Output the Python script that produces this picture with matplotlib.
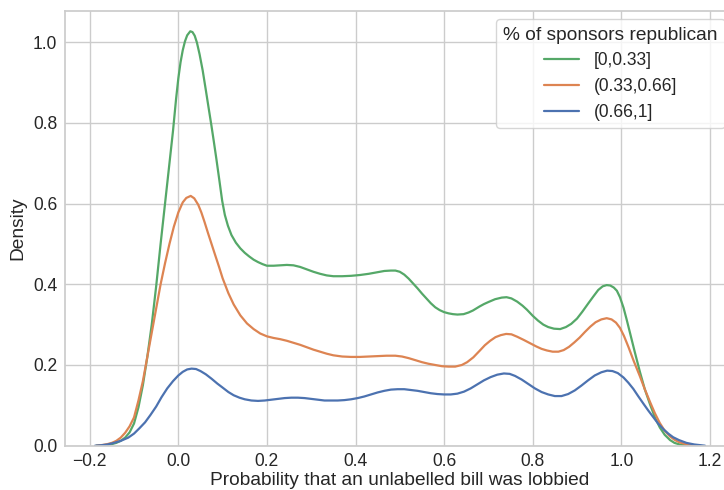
import matplotlib
matplotlib.use("Agg")
import matplotlib.pyplot as plt
import seaborn as sns

# KDE curves of predicted lobbying probability, grouped by share of republican sponsors
x_low = [-0.185, -0.17, -0.16, -0.15, -0.14, -0.13, -0.12, -0.11, -0.1, -0.09,
         -0.08, -0.07, -0.06, -0.05, -0.04, -0.03, -0.02, -0.012, -0.005, 0.0,
         0.005, 0.01, 0.015, 0.02, 0.027, 0.032, 0.037, 0.042, 0.048, 0.055,
         0.062, 0.068, 0.0745, 0.08, 0.086, 0.093, 0.099, 0.105, 0.112, 0.12,
         0.13, 0.14, 0.15, 0.16, 0.17, 0.18, 0.19, 0.2, 0.215, 0.23, 0.245, 0.26,
         0.275, 0.29, 0.305, 0.32, 0.335, 0.35, 0.37, 0.39, 0.41, 0.43, 0.45,
         0.465, 0.48, 0.49, 0.5, 0.51, 0.52, 0.53, 0.54, 0.55, 0.56, 0.57, 0.58,
         0.59, 0.6, 0.61, 0.62, 0.63, 0.644, 0.655, 0.665, 0.68, 0.69, 0.7, 0.715,
         0.73, 0.741, 0.752, 0.765, 0.777, 0.787, 0.8, 0.812, 0.824, 0.835, 0.848,
         0.862, 0.875, 0.887, 0.9, 0.912, 0.925, 0.937, 0.948, 0.958, 0.967, 0.975,
         0.983, 0.99, 0.997, 1.005, 1.012, 1.02, 1.03, 1.042, 1.053, 1.065, 1.076,
         1.087, 1.098, 1.11, 1.12, 1.132, 1.145, 1.155]
y_low = [0.0, 0.001, 0.002, 0.004, 0.007, 0.012, 0.02, 0.033, 0.055, 0.095,
         0.15, 0.22, 0.3, 0.395, 0.5, 0.6, 0.7, 0.78, 0.86, 0.91,
         0.95, 0.98, 1.002, 1.017, 1.027, 1.025, 1.016, 0.999, 0.97, 0.93,
         0.882, 0.84, 0.795, 0.755, 0.71, 0.655, 0.607, 0.572, 0.545, 0.522,
         0.503, 0.489, 0.478, 0.469, 0.461, 0.455, 0.45, 0.446, 0.446, 0.447, 0.448, 0.447,
         0.443, 0.437, 0.431, 0.426, 0.422, 0.42, 0.42, 0.421, 0.423, 0.426, 0.43,
         0.433, 0.434, 0.434, 0.431, 0.424, 0.414, 0.402, 0.39, 0.377, 0.365, 0.353, 0.343,
         0.336, 0.331, 0.328, 0.326, 0.325, 0.326, 0.33, 0.335, 0.345, 0.351, 0.356, 0.363,
         0.367, 0.368, 0.365, 0.357, 0.347, 0.337, 0.322, 0.31, 0.3, 0.294, 0.29,
         0.289, 0.294, 0.302, 0.315, 0.332, 0.352, 0.37, 0.386, 0.395, 0.398, 0.397,
         0.392, 0.384, 0.368, 0.342, 0.313, 0.278, 0.234, 0.183, 0.14, 0.102, 0.07,
         0.045, 0.027, 0.014, 0.007, 0.003, 0.001, 0.0]

x_mid = [-0.185, -0.17, -0.16, -0.15, -0.14, -0.13, -0.12, -0.11, -0.1, -0.09,
         -0.08, -0.07, -0.06, -0.05, -0.04, -0.03, -0.02, -0.01, 0.0, 0.01,
         0.018, 0.028, 0.036, 0.045, 0.052, 0.059, 0.067, 0.075, 0.083, 0.092,
         0.1, 0.113, 0.125, 0.14, 0.155, 0.17, 0.185, 0.2, 0.215, 0.23, 0.245,
         0.26, 0.275, 0.29, 0.305, 0.32, 0.335, 0.35, 0.37, 0.39, 0.41, 0.43, 0.45,
         0.47, 0.49, 0.505, 0.52, 0.535, 0.55, 0.565, 0.58, 0.595, 0.61, 0.625,
         0.64, 0.652, 0.666, 0.68, 0.692, 0.704, 0.716, 0.728, 0.74, 0.752, 0.765,
         0.78, 0.794, 0.808, 0.82, 0.832, 0.845, 0.858, 0.87, 0.882, 0.894, 0.906,
         0.918, 0.93, 0.942, 0.955, 0.967, 0.978, 0.988, 0.997, 1.006, 1.016,
         1.028, 1.042, 1.053, 1.065, 1.076, 1.087, 1.098, 1.11, 1.121, 1.132,
         1.145, 1.16, 1.175]
y_mid = [0.0, 0.002, 0.004, 0.007, 0.012, 0.02, 0.032, 0.048, 0.07, 0.112,
         0.16, 0.22, 0.28, 0.34, 0.4, 0.452, 0.5, 0.543, 0.578, 0.603,
         0.614, 0.619, 0.613, 0.597, 0.578, 0.555, 0.527, 0.5, 0.473, 0.443,
         0.415, 0.378, 0.35, 0.323, 0.303, 0.289, 0.278, 0.271, 0.267, 0.264, 0.26,
         0.255, 0.25, 0.244, 0.238, 0.233, 0.228, 0.224, 0.221, 0.22, 0.22, 0.221, 0.222,
         0.223, 0.223, 0.221, 0.217, 0.212, 0.207, 0.203, 0.2, 0.197, 0.196, 0.196,
         0.2, 0.207, 0.219, 0.235, 0.249, 0.26, 0.269, 0.274, 0.277, 0.276, 0.27,
         0.262, 0.254, 0.246, 0.24, 0.236, 0.233, 0.233, 0.237, 0.245, 0.256, 0.268,
         0.282, 0.295, 0.306, 0.313, 0.316, 0.313, 0.305, 0.292, 0.272, 0.245,
         0.21, 0.172, 0.14, 0.108, 0.08, 0.056, 0.037, 0.023, 0.014, 0.008,
         0.004, 0.001, 0.0]

x_high = [-0.188, -0.175, -0.16, -0.145, -0.13, -0.113, -0.1, -0.088, -0.075, -0.063,
          -0.05, -0.038, -0.025, -0.012, 0.0, 0.01, 0.02, 0.03, 0.04, 0.05, 0.062,
          0.075, 0.088, 0.1, 0.113, 0.125, 0.138, 0.15, 0.165, 0.18, 0.195, 0.21,
          0.225, 0.24, 0.255, 0.27, 0.285, 0.3, 0.315, 0.33, 0.345, 0.36, 0.375,
          0.39, 0.405, 0.42, 0.435, 0.45, 0.465, 0.48, 0.495, 0.51, 0.525, 0.54,
          0.555, 0.57, 0.585, 0.6, 0.615, 0.63, 0.645, 0.66, 0.675, 0.69, 0.705,
          0.72, 0.735, 0.748, 0.76, 0.775, 0.79, 0.805, 0.82, 0.835, 0.85, 0.865,
          0.88, 0.895, 0.91, 0.925, 0.94, 0.955, 0.968, 0.98, 0.992, 1.005, 1.016,
          1.027, 1.038, 1.05, 1.061, 1.072, 1.083, 1.095, 1.106, 1.117, 1.13, 1.147,
          1.165, 1.189]
y_high = [0.0, 0.001, 0.003, 0.007, 0.012, 0.02, 0.03, 0.043, 0.058, 0.076,
          0.097, 0.12, 0.142, 0.16, 0.174, 0.183, 0.189, 0.191, 0.19, 0.185, 0.177,
          0.166, 0.154, 0.144, 0.133, 0.125, 0.119, 0.115, 0.112, 0.111, 0.112, 0.114,
          0.116, 0.118, 0.119, 0.119, 0.118, 0.116, 0.114, 0.112, 0.112, 0.112, 0.113,
          0.115, 0.118, 0.122, 0.127, 0.132, 0.136, 0.139, 0.14, 0.14, 0.138, 0.136,
          0.133, 0.13, 0.128, 0.127, 0.127, 0.129, 0.134, 0.142, 0.152, 0.162, 0.17,
          0.176, 0.179, 0.178, 0.173, 0.164, 0.153, 0.142, 0.133, 0.127, 0.123, 0.123,
          0.128, 0.137, 0.149, 0.162, 0.174, 0.182, 0.186, 0.185, 0.18, 0.169, 0.156,
          0.141, 0.123, 0.104, 0.087, 0.071, 0.055, 0.041, 0.03, 0.021, 0.014, 0.007,
          0.003, 0.0]

labels = ["[0,0.33]", "(0.33,0.66]", "(0.66,1]"]
colors = ["#55A868", "#DD8452", "#4C72B0"]

sns.set_theme(style="whitegrid", font_scale=1.15)
plt.rcParams["font.family"] = ["Liberation Sans", "DejaVu Sans"]

fig = plt.figure(figsize=(7.24, 4.9), dpi=100)
ax = fig.add_axes([65 / 724, 44.3 / 490, 668.6 / 724, 435 / 490])

curves = [(x_low, y_low), (x_mid, y_mid), (x_high, y_high)]
for (xs, ys), lab, col in zip(curves, labels, colors):
    ax.plot(xs, ys, color=col, linewidth=1.6, label=lab)

ax.set_xlim(-0.2558, 1.2535)
ax.set_ylim(0, 1.078)
ax.set_xticks([-0.2, 0.0, 0.2, 0.4, 0.6, 0.8, 1.0, 1.2])
ax.set_yticks([0.0, 0.2, 0.4, 0.6, 0.8, 1.0])
ax.tick_params(axis="both", length=0, pad=5.5)
ax.set_xlabel("Probability that an unlabelled bill was lobbied", labelpad=1.5)
ax.set_ylabel("Density", labelpad=5)
ax.legend(title="% of sponsors republican", loc="upper right")

fig.savefig("out.png", dpi=100)
